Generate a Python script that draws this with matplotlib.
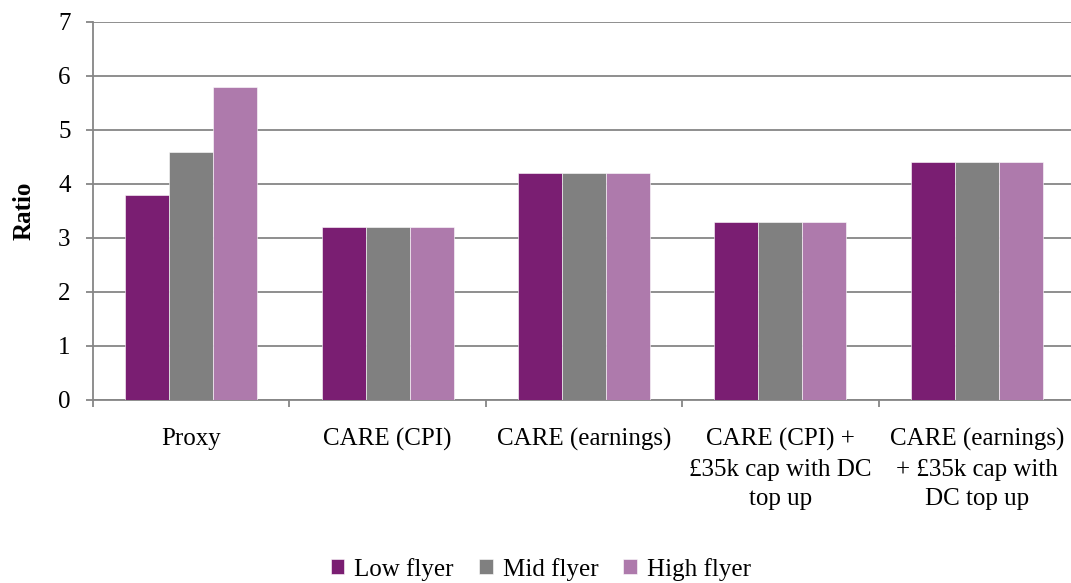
import matplotlib

matplotlib.use("Agg")
import matplotlib.pyplot as plt
import numpy as np

categories = [
    "Proxy",
    "CARE (CPI)",
    "CARE (earnings)",
    "CARE (CPI) +\n£35k cap with DC\ntop up",
    "CARE (earnings)\n+ £35k cap with\nDC top up",
]
low_flyer = [3.8, 3.2, 4.2, 3.3, 4.4]
mid_flyer = [4.6, 3.2, 4.2, 3.3, 4.4]
high_flyer = [5.8, 3.2, 4.2, 3.3, 4.4]
series_names = ["Low flyer", "Mid flyer", "High flyer"]
y_ticks = [0, 1, 2, 3, 4, 5, 6, 7]

colors = ["#7A1E72", "#808080", "#AE7AAC"]
axis_grey = "#868686"

plt.rcParams["font.family"] = ["Liberation Serif", "DejaVu Serif"]

fig = plt.figure(figsize=(10.71, 5.83), dpi=100)
ax = fig.add_axes([0.0868, 0.3139, 0.9169, 0.6484])

x = np.arange(len(categories))
width = 0.224
for offset, values, name, color in zip(
    [-width, 0, width], [low_flyer, mid_flyer, high_flyer], series_names, colors
):
    ax.bar(x + offset, values, width, color=color, label=name,
           edgecolor="white", linewidth=0.4, zorder=3)

ax.set_xlim(-0.5, len(categories) - 0.5)
ax.set_ylim(0, 7)
ax.set_yticks(y_ticks)
ax.yaxis.grid(True, color=axis_grey, linewidth=1.3, zorder=0)

# category boundaries carry the tick marks, labels sit between them
ax.set_xticks(np.arange(-0.5, len(categories)), labels=[])
ax.set_xticks(x, labels=categories, minor=True)
ax.tick_params(axis="x", which="minor", length=0, pad=20, labelsize=18)
ax.tick_params(axis="x", which="major", length=5, width=1.3, color=axis_grey)
ax.tick_params(axis="y", length=5, width=1.3, color=axis_grey, labelsize=18, pad=11)
for lbl in ax.get_xticklabels(minor=True):
    lbl.set_linespacing(1.45)

for side in ["top", "right"]:
    ax.spines[side].set_visible(False)
for side in ["left", "bottom"]:
    ax.spines[side].set_color(axis_grey)
    ax.spines[side].set_linewidth(1.3)

ax.set_ylabel("Ratio", fontsize=18, fontweight="bold", labelpad=16)

fig.legend(
    loc="center",
    bbox_to_anchor=(0.505, 0.024),
    ncol=3,
    frameon=False,
    fontsize=18,
    handlelength=0.55,
    handleheight=0.55,
    handletextpad=0.4,
    columnspacing=1.0,
)

fig.savefig("out.png", dpi=100)
